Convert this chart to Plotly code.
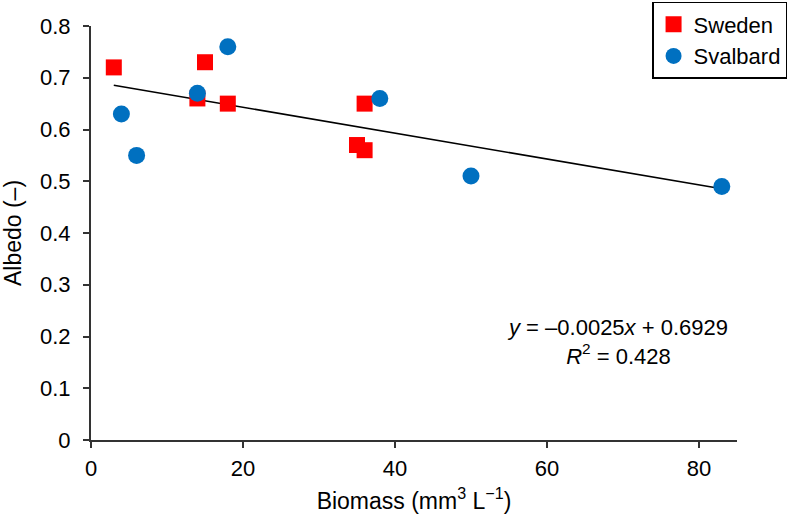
import plotly.graph_objects as go

# Data
sweden_x = [3, 14, 15, 18, 35, 36, 36]
sweden_y = [0.72, 0.66, 0.73, 0.65, 0.57, 0.56, 0.65]
svalbard_x = [4, 6, 14, 18, 38, 50, 83]
svalbard_y = [0.63, 0.55, 0.67, 0.76, 0.66, 0.51, 0.49]
slope = -0.0025
intercept = 0.6929
r2 = 0.428
x_ticks = [0, 20, 40, 60, 80]

all_x = sweden_x + svalbard_x
fit_x = [min(all_x), max(all_x)]
fit_y = [slope * v + intercept for v in fit_x]

FONT = "Liberation Sans, Arial, Helvetica, sans-serif"
FS = 22

fig = go.Figure()
fig.add_trace(go.Scatter(x=fit_x, y=fit_y, mode="lines",
                         line=dict(color="black", width=1.6),
                         showlegend=False, hoverinfo="skip"))
fig.add_trace(go.Scatter(x=sweden_x, y=sweden_y, mode="markers", name="Sweden",
                         legendgroup="a",
                         marker=dict(symbol="square", size=16, color="#FF0000")))
fig.add_trace(go.Scatter(x=svalbard_x, y=svalbard_y, mode="markers", name="Svalbard",
                         legendgroup="b",
                         marker=dict(symbol="circle", size=17, color="#0070C0")))

eq = (f"<i>y</i> = \u2013{abs(slope):.4f}<i>x</i> + {intercept:.4f}"
      f"<br><i>R</i><sup>2</sup> = {r2:.3f}")
fig.add_annotation(x=69.3, y=0.19, xref="x", yref="y", text=eq, showarrow=False,
                   align="center", font=dict(family=FONT, size=FS, color="black"))

axis_common = dict(showline=True, linecolor="#333333", linewidth=2,
                   ticks="outside", ticklen=6, tickwidth=2, tickcolor="#333333",
                   showgrid=False, zeroline=False,
                   tickfont=dict(family=FONT, size=FS, color="black"))

fig.update_layout(
    width=788, height=517,
    margin=dict(l=91, r=51, t=26, b=77, autoexpand=False),
    plot_bgcolor="white", paper_bgcolor="white",
    font=dict(family=FONT, size=FS, color="black"),
    xaxis=dict(range=[0, 85], tickvals=x_ticks, ticklabelstandoff=2,
               title=dict(text="Biomass (mm<sup>3</sup> L<sup>\u22121</sup>)",
                          font=dict(family=FONT, size=23), standoff=12),
               **axis_common),
    yaxis=dict(range=[0, 0.8], dtick=0.1, tick0=0, ticklabelstandoff=8,
               title=dict(text="Albedo (\u2013)", font=dict(family=FONT, size=23),
                          standoff=16),
               **axis_common),
    legend=dict(x=1.0775, y=1.058, xanchor="right", yanchor="top",
                bordercolor="black", borderwidth=1.5, bgcolor="white",
                tracegroupgap=0,
                font=dict(family=FONT, size=22, color="black")),
)

fig.write_html("out.html", config={"displayModeBar": False},
               post_script="document.body.style.margin='0';document.body.style.overflow='hidden';")
